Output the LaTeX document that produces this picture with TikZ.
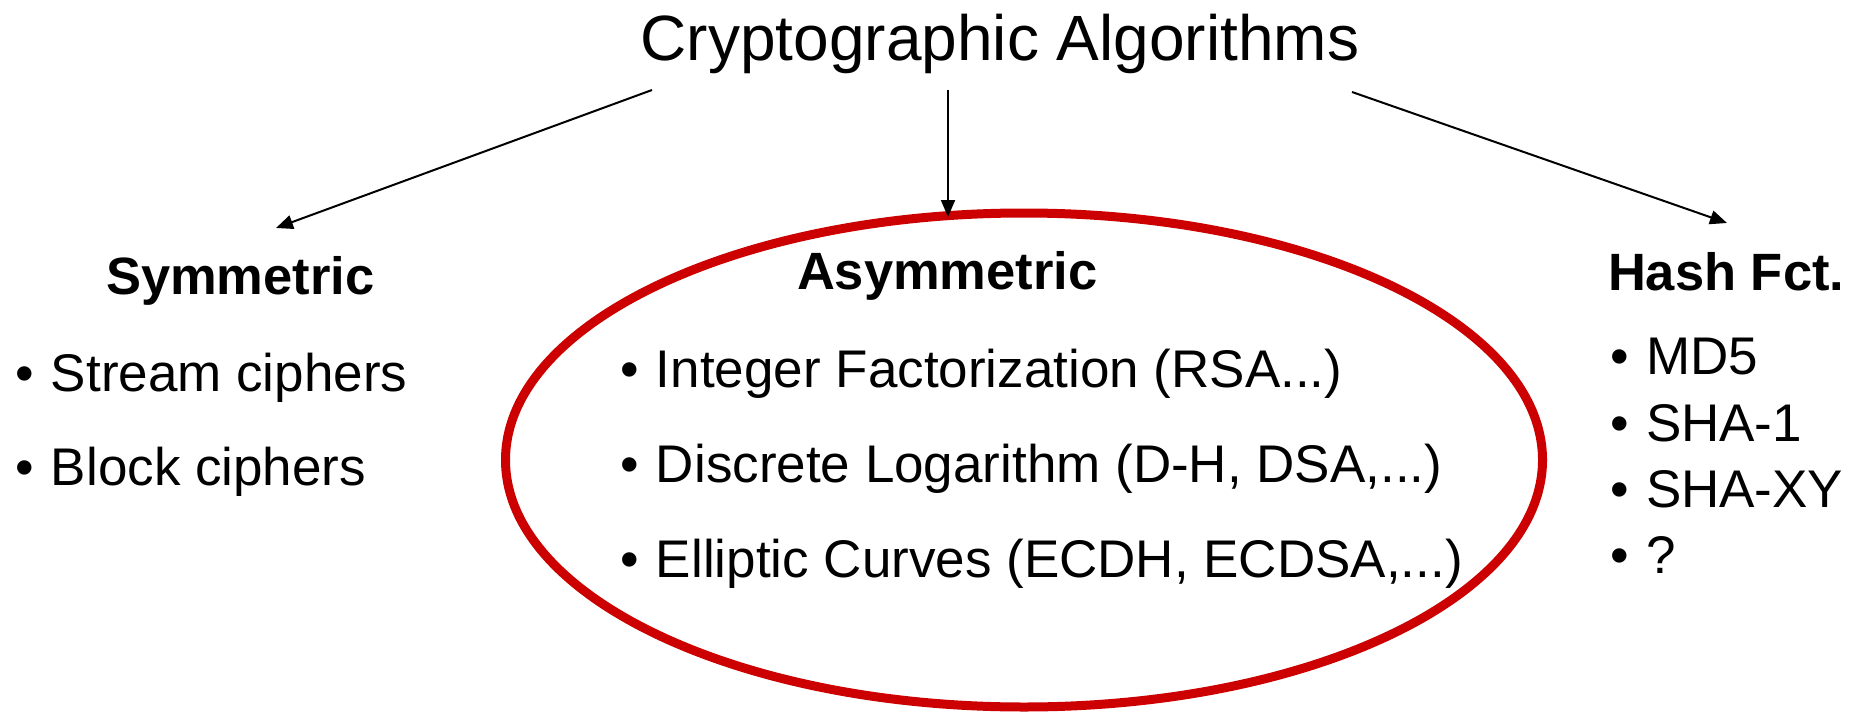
\documentclass[tikz,border=0pt]{standalone}
\usepackage{fontspec}
\setmainfont{Liberation Sans}
\usetikzlibrary{arrows.meta,shapes.geometric}
\definecolor{ringred}{HTML}{CC0000}
% a bullet followed by the item text, with a fixed indent
\newcommand\bulletitem[1]{\makebox[34pt][l]{\hspace*{-2pt}\textbullet}#1}
\begin{document}
\begin{tikzpicture}[x=1pt,y=-1pt,
  every node/.style={inner sep=0pt,outer sep=0pt},
  titletext/.style={font=\fontsize{64}{64}\selectfont,anchor=base},
  heading/.style={font=\fontsize{52.5}{52.5}\selectfont\bfseries,anchor=base west},
  entry/.style={font=\fontsize{53}{53}\selectfont,anchor=base west},
  branch/.style={line width=2pt,-{Triangle[length=17pt,width=14pt]}},
  ring/.style={draw=ringred,line width=9pt,ellipse,minimum width=1037pt,minimum height=494pt}
]
\useasboundingbox (0,0) rectangle (1859,714);
\fill[white] (0,0) rectangle (1859,714);

% top label
\node[titletext] (title) at (1000,61) {Cryptographic Algorithms};

% the highlighted asymmetric family
\node[ring] (ring) at (1024,460) {};

% column headings
\node[heading] (sym)  at (106,294) {Symmetric};
\node[heading] (asym) at (797,289) {Asymmetric};
\node[heading] (hash) at (1608,290) {Hash Fct.};

% symmetric entries
\node[entry] (stream) at (17,391) {\bulletitem{Stream ciphers}};
\node[entry] (block)  at (17,485) {\bulletitem{Block ciphers}};

% asymmetric entries
\node[entry] (ifp) at (622,387) {\bulletitem{Integer Factorization (RSA...)}};
\node[entry] (dlp) at (622,482) {\bulletitem{Discrete Logarithm (D-H, DSA,...)}};
\node[entry] (ecc) at (622,577) {\bulletitem{Elliptic Curves (ECDH, ECDSA,...)}};

% hash entries
\node[entry] (md5)  at (1612,374) {\bulletitem{MD5}};
\node[entry] (sha1) at (1612,441) {\bulletitem{SHA-1}};
\node[entry] (shaxy) at (1612,507) {\bulletitem{SHA-XY}};
\node[entry] (other) at (1612,573) {\bulletitem{?}};

% connector end points
\coordinate (fromL) at (652,90);
\coordinate (fromM) at (948,90);
\coordinate (fromR) at (1352,92);
\coordinate (toL) at (276,228);
\coordinate (toM) at (948,217);
\coordinate (toR) at (1727,223);

\draw[branch] (fromL) -- (toL);
\draw[branch] (fromM) -- (toM);
\draw[branch] (fromR) -- (toR);
\end{tikzpicture}
\end{document}
